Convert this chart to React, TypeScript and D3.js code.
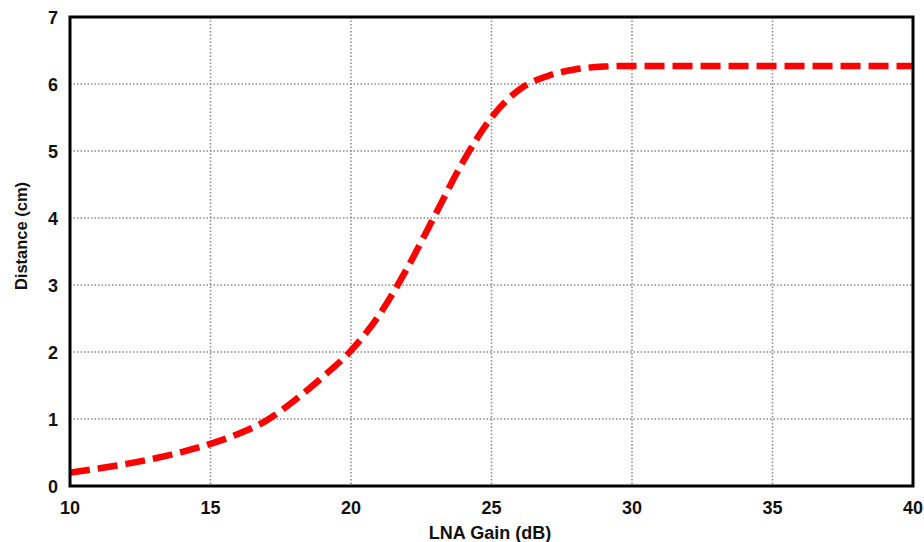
import React from "react";
import * as d3 from "d3";

const gain = [10, 11, 12, 13, 14, 15, 16, 17, 18, 19, 20, 21, 22, 23, 24, 25, 26, 27, 28, 29, 30, 35, 40];
const distance = [0.2, 0.26, 0.33, 0.41, 0.51, 0.63, 0.78, 0.98, 1.28, 1.63, 2.02, 2.55, 3.25, 4.05, 4.85, 5.5, 5.92, 6.12, 6.22, 6.26, 6.27, 6.27, 6.27];
const xTicks = [10, 15, 20, 25, 30, 35, 40];
const yTicks = [0, 1, 2, 3, 4, 5, 6, 7];

const W = 924, H = 542;
const L = 70, R = 913, T = 17, B = 486;

export default function App() {
  const x = d3.scaleLinear().domain([10, 40]).range([L, R]);
  const y = d3.scaleLinear().domain([0, 7]).range([B, T]);
  const line = d3
    .line<number>()
    .x((_, i) => x(gain[i]))
    .y((d) => y(d))
    .curve(d3.curveMonotoneX);
  const font = "'Liberation Sans', Arial, sans-serif";
  return (
    <svg width={W} height={H} style={{ position: "absolute", left: 0, top: 0, background: "#fff" }}>
      {xTicks.slice(1, -1).map((t) => (
        <line key={"gx" + t} x1={x(t)} x2={x(t)} y1={T} y2={B} stroke="#888" strokeWidth={1.5} strokeDasharray="1.5,2" />
      ))}
      {yTicks.slice(1, -1).map((t) => (
        <line key={"gy" + t} x1={L} x2={R} y1={y(t)} y2={y(t)} stroke="#888" strokeWidth={1.5} strokeDasharray="1.5,2" />
      ))}
      <path d={line(distance) || ""} fill="none" stroke="#ff0000" strokeWidth={6.5} strokeDasharray="20,8" />
      <rect x={L} y={T} width={R - L} height={B - T} fill="none" stroke="#000" strokeWidth={3} />
      {yTicks.map((t) => (
        <text key={"ly" + t} x={58} y={y(t) + 6.5} textAnchor="end" fontFamily={font} fontWeight="bold" fontSize={18} fill="#111">
          {t}
        </text>
      ))}
      {xTicks.map((t) => (
        <text key={"lx" + t} x={x(t)} y={514} textAnchor="middle" fontFamily={font} fontWeight="bold" fontSize={18} fill="#111">
          {t}
        </text>
      ))}
      <text x={490} y={539} textAnchor="middle" fontFamily={font} fontWeight="bold" fontSize={18} fill="#111">
        LNA Gain (dB)
      </text>
      <text transform={`translate(27,236) rotate(-90)`} textAnchor="middle" fontFamily={font} fontWeight="bold" fontSize={16.5} fill="#111">
        Distance (cm)
      </text>
    </svg>
  );
}
